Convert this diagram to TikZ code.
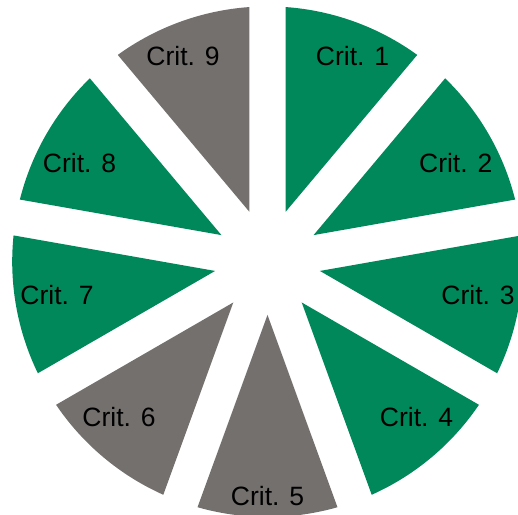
\documentclass[tikz,border=0pt]{standalone}
\usepackage{fontspec}
\setmainfont{Liberation Sans}
\definecolor{critgreen}{RGB}{0,135,90}
\definecolor{critgray}{RGB}{116,112,110}
\begin{document}
\begin{tikzpicture}[x=1pt,y=1pt,
  lbl/.style={font=\fontsize{26.5}{30}\selectfont, anchor=base, inner sep=0pt, text=black}]
\useasboundingbox (-267.5,-252.3) rectangle (250.5,261.7);
\def\pieR{255.3}
\def\pieT{53.2}
\def\pieO{4.09}
\foreach \s/\c in {50/critgreen, 10/critgreen, -30/critgreen, -70/critgreen, -110/critgray, -150/critgray, 170/critgreen, 130/critgreen, 90/critgray}{
  \fill[\c] ({\s+20}:\pieT) -- ({\s+\pieO}:\pieR) arc[start angle={\s+\pieO}, end angle={\s+40-\pieO}, radius=\pieR] -- cycle;
}
\node[lbl] (c1) at (85,196.0) {Crit. 1};
\node[lbl] (c2) at (188.2,89.4) {Crit. 2};
\node[lbl] (c3) at (210.5,-42.6) {Crit. 3};
\node[lbl] (c4) at (149,-164.3) {Crit. 4};
\node[lbl] (c5) at (0,-243.3) {Crit. 5};
\node[lbl] (c6) at (-148.5,-164.3) {Crit. 6};
\node[lbl] (c7) at (-210.5,-42.6) {Crit. 7};
\node[lbl] (c8) at (-188,89.4) {Crit. 8};
\node[lbl] (c9) at (-84.5,196.0) {Crit. 9};
\end{tikzpicture}
\end{document}
